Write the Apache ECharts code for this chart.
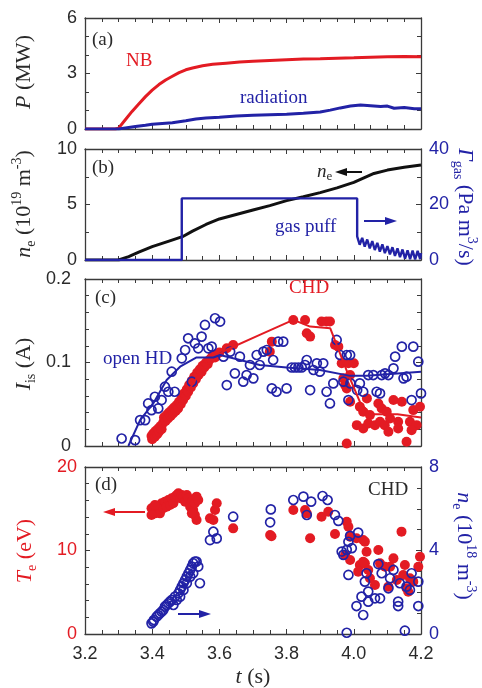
<!DOCTYPE html>
<html><head><meta charset="utf-8">
<script src="https://cdn.jsdelivr.net/npm/echarts@6/dist/echarts.min.js"></script>
<style>html,body{margin:0;padding:0;background:#fff}#c{width:482px;height:688px}</style>
</head><body><div id="c"></div>
<script>
// ---------------- data ----------------
const timeTicks = [3.2, 3.4, 3.6, 3.8, 4.0, 4.2];

// (a) powers, MW
const nbPower = [[3.2,0],[3.29,0],[3.30,0.05],[3.32,0.5],[3.34,0.95],[3.36,1.35],[3.38,1.75],[3.40,2.1],[3.42,2.4],[3.44,2.65],[3.46,2.85],[3.48,3.05],[3.50,3.2],[3.52,3.3],[3.55,3.42],[3.58,3.5],[3.62,3.56],[3.66,3.62],[3.70,3.66],[3.75,3.7],[3.80,3.74],[3.85,3.78],[3.90,3.8],[3.95,3.83],[4.00,3.85],[4.05,3.88],[4.10,3.9],[4.15,3.92],[4.20,3.9]];
const radPower = [[3.2,0],[3.3,0],[3.32,0.06],[3.35,0.13],[3.38,0.2],[3.4,0.26],[3.43,0.3],[3.46,0.34],[3.5,0.45],[3.53,0.54],[3.56,0.6],[3.6,0.64],[3.65,0.7],[3.7,0.74],[3.75,0.77],[3.8,0.8],[3.85,0.85],[3.9,0.92],[3.93,1.02],[3.96,1.14],[3.99,1.24],[4.02,1.3],[4.05,1.26],[4.08,1.22],[4.1,1.24],[4.12,1.12],[4.15,1.16],[4.18,1.1],[4.2,1.1]];

// (b) line density (1e19 m^-3) and gas puff (Pa m^3/s)
const lineDensity = [[3.2,0],[3.3,0],[3.33,0.3],[3.36,0.7],[3.4,1.2],[3.45,1.7],[3.49,2.1],[3.52,2.6],[3.56,3.2],[3.6,3.7],[3.65,4.1],[3.7,4.5],[3.75,4.9],[3.8,5.35],[3.85,5.7],[3.9,6.07],[3.95,6.5],[4.0,7.0],[4.03,7.4],[4.06,7.8],[4.1,8.1],[4.15,8.35],[4.2,8.56]];
const gasPuff = [[3.2,0],[3.488,0],[3.488,22.2],[4.01,22.2],[4.01,8.5],[4.0175,5.5],[4.025,8.0],[4.0325,4.8],[4.04,7.4],[4.0475,4.2],[4.055,6.8],[4.0625,3.6],[4.07,6.2],[4.0775,3.0],[4.085,5.6],[4.0925,2.5],[4.10,5.0],[4.1075,2.0],[4.115,4.6],[4.1225,1.5],[4.13,4.2],[4.1375,1.0],[4.145,3.8],[4.1525,0.5],[4.16,3.5],[4.1675,0.3],[4.175,3.4],[4.1825,0.2],[4.19,3.3],[4.1975,0.3],[4.2,2.5]];

// (c) ion saturation current (A)
const chdFit = [[3.40,0.01],[3.44,0.03],[3.48,0.05],[3.52,0.074],[3.55,0.092],[3.58,0.105],[3.62,0.115],[3.72,0.133],[3.82,0.151],[3.87,0.143],[3.93,0.141],[3.98,0.089],[4.02,0.051],[4.05,0.038],[4.13,0.038],[4.2,0.034]];
const hdFit = [[3.329,0],[3.364,0.031],[3.403,0.051],[3.443,0.079],[3.483,0.095],[3.532,0.106],[3.582,0.106],[3.602,0.109],[3.641,0.105],[3.72,0.097],[3.80,0.094],[3.899,0.091],[3.989,0.084],[4.039,0.084],[4.2,0.089]];
const chdIis = [[3.398,0.012],[3.40,0.008],[3.403,0.015],[3.408,0.011],[3.41,0.018],[3.415,0.014],[3.418,0.021],[3.42,0.017],[3.425,0.024],[3.428,0.02],[3.433,0.028],[3.435,0.034],[3.44,0.03],[3.443,0.037],[3.447,0.033],[3.45,0.04],[3.455,0.036],[3.458,0.043],[3.462,0.039],[3.465,0.046],[3.47,0.042],[3.473,0.049],[3.477,0.045],[3.48,0.053],[3.485,0.05],[3.488,0.058],[3.492,0.055],[3.495,0.063],[3.50,0.06],[3.503,0.068],[3.507,0.065],[3.51,0.073],[3.515,0.07],[3.518,0.078],[3.522,0.075],[3.525,0.083],[3.53,0.08],[3.534,0.088],[3.538,0.085],[3.542,0.092],[3.547,0.089],[3.55,0.096],[3.555,0.094],[3.56,0.1],[3.565,0.098],[3.57,0.103],[3.575,0.105],[3.58,0.108],[3.587,0.106],[3.592,0.11],[3.60,0.112],[3.622,0.117],[3.641,0.121],
 [3.75,0.113],[3.756,0.125],[3.82,0.151],[3.855,0.151],[3.86,0.135],[3.87,0.131],[3.904,0.149],[3.919,0.149],[3.929,0.149],[3.944,0.121],[3.954,0.119],[3.964,0.099],[3.984,0.099],[4.0,0.099],[3.969,0.081],[3.974,0.073],[3.979,0.069],[3.989,0.085],[3.989,0.053],[4.039,0.057],[4.018,0.047],[4.028,0.041],[4.048,0.037],[4.073,0.051],[4.083,0.045],[4.098,0.041],[4.118,0.055],[4.143,0.053],[4.177,0.043],[4.197,0.047],[4.009,0.025],[4.028,0.021],[4.043,0.027],[4.063,0.025],[4.078,0.029],[4.092,0.025],[4.108,0.033],[4.132,0.029],[4.103,0.017],[4.132,0.021],[4.167,0.029],[4.187,0.025],[4.172,0.019],[3.979,0.003],[4.157,0.005]];
const hdIis = [[3.309,0.009],[3.349,0.007],[3.364,0.031],[3.379,0.031],[3.388,0.051],[3.398,0.043],[3.408,0.059],[3.418,0.045],[3.428,0.055],[3.438,0.071],[3.448,0.065],[3.458,0.089],[3.467,0.065],[3.488,0.105],[3.498,0.115],[3.507,0.129],[3.518,0.077],[3.527,0.123],[3.537,0.117],[3.547,0.131],[3.557,0.145],[3.567,0.117],[3.577,0.119],[3.587,0.153],[3.602,0.149],[3.612,0.107],[3.622,0.073],[3.632,0.113],[3.646,0.087],[3.661,0.107],[3.671,0.077],[3.681,0.085],[3.691,0.097],[3.701,0.081],[3.711,0.109],
 [3.72,0.097],[3.731,0.113],[3.741,0.115],[3.756,0.069],[3.77,0.065],[3.76,0.103],[3.775,0.125],[3.79,0.125],[3.80,0.069],[3.815,0.094],[3.825,0.094],[3.835,0.094],[3.845,0.094],[3.855,0.097],[3.86,0.103],[3.87,0.067],[3.88,0.091],[3.89,0.099],[3.899,0.089],[3.909,0.099],[3.919,0.065],[3.929,0.051],[3.939,0.075],[3.949,0.127],[3.959,0.109],[3.979,0.109],[3.989,0.109],[3.969,0.077],[3.984,0.055],[3.99,0.075],[4.018,0.075],[4.01,0.067],[4.028,0.065],[4.043,0.085],[4.058,0.085],[4.068,0.065],[4.078,0.063],[4.083,0.085],[4.093,0.087],[4.103,0.085],[4.118,0.093],[4.123,0.107],[4.143,0.119],[4.148,0.081],[4.157,0.083],[4.172,0.055],[4.177,0.119],[4.192,0.101],[4.2,0.063]];

// (d) CHD electron temperature (eV) and density (1e18 m^-3)
const chdTe = [[3.398,15.05],[3.403,14.65],[3.408,14.45],[3.413,14.85],[3.418,15.25],[3.423,14.45],[3.428,15.65],[3.433,15.05],[3.438,15.85],[3.443,15.25],[3.448,16.05],[3.453,15.45],[3.458,16.25],[3.463,15.65],[3.468,16.45],[3.473,16.65],[3.478,16.85],[3.483,16.25],[3.488,16.65],[3.493,16.45],[3.498,15.85],[3.503,16.65],[3.508,16.25],[3.513,15.25],[3.518,15.85],[3.522,14.85],[3.527,15.65],[3.532,16.45],[3.532,13.65],[3.537,16.05],[3.527,14.25],[3.518,14.45],[3.408,15.45],[3.398,14.25],
 [3.572,13.85],[3.582,13.65],[3.587,14.85],[3.592,15.65],[3.641,12.65],
 [3.751,11.86],[3.755,11.7],[3.82,14.85],[3.855,14.85],[3.86,14.45],[3.87,11.46],[3.904,14.05],[3.924,14.65],[3.944,11.98],[3.979,13.45],[3.984,12.85],[3.989,11.66],[4.008,11.46],[4.028,11.26],[4.033,11.06],[4.038,9.86],[3.974,9.46],[3.989,8.86],[4.018,8.26],[4.028,8.66],[4.033,8.46],[4.013,7.47],[4.043,7.66],[4.048,6.67],[4.063,5.87],[4.073,10.06],[4.078,8.46],[4.093,8.06],[4.108,8.06],[4.118,9.06],[4.142,12.26],[4.128,6.47],[4.103,5.67],[4.147,7.07],[4.152,8.26],[4.157,5.47],[4.167,6.67],[4.192,8.06],[4.197,9.26],[4.162,5.07],[4.177,6.27]];
const chdNe = [[3.398,0.51],[3.403,0.59],[3.405,0.67],[3.413,0.83],[3.418,0.91],[3.423,0.99],[3.428,1.07],[3.433,1.15],[3.438,1.31],[3.443,1.39],[3.448,1.47],[3.453,1.55],[3.458,1.63],[3.463,1.39],[3.473,1.63],[3.478,1.95],[3.483,2.11],[3.488,2.27],[3.493,2.43],[3.498,2.59],[3.503,2.75],[3.508,2.91],[3.513,3.07],[3.518,3.23],[3.522,3.39],[3.527,3.47],[3.532,3.47],[3.537,3.23],[3.542,2.43],[3.468,1.79],[3.483,1.79],[3.493,2.11],[3.503,2.43],[3.513,2.75],[3.522,2.91],
 [3.572,4.5],[3.582,4.9],[3.592,4.58],[3.641,5.62],
 [3.753,5.97],[3.751,5.35],[3.82,6.42],[3.85,6.58],[3.86,5.70],[3.873,6.34],[3.907,6.61],[3.922,6.42],[3.944,5.70],[3.954,5.42],[3.989,4.70],[3.984,4.42],[3.979,4.03],[3.969,3.79],[3.964,3.95],[4.013,4.86],[3.994,4.11],[3.984,2.83],[4.038,2.91],[4.033,2.51],[4.043,2.03],[4.023,1.79],[4.008,1.34],[4.043,1.55],[4.028,0.91],[4.063,1.71],[4.078,1.71],[4.073,3.35],[4.083,2.91],[4.103,2.19],[4.108,2.67],[4.118,3.07],[4.132,1.55],[4.132,1.34],[4.137,2.43],[4.157,2.27],[4.172,2.91],[4.167,2.11],[4.192,2.51],[4.192,1.34],[3.979,0.06],[4.152,0.16]];

// ---------------- chart ----------------
const RED = '#e31b23', BLUE = '#2222a6', AX = '#3a3a3a', TXT = '#2a2a2a';
const SERIF = '"Liberation Serif", "DejaVu Serif", serif';
const SANS = '"Liberation Sans", Arial, sans-serif';

const chart = echarts.init(document.getElementById('c'), null, {renderer: 'canvas'});
const L = 85, W = 336;
const grids = [
  {left: L, top: 18, width: W, height: 111},
  {left: L, top: 149, width: W, height: 111},
  {left: L, top: 279, width: W, height: 167},
  {left: L, top: 467, width: W, height: 167}
].map(g => Object.assign(g, {outerBoundsMode: 'none', containLabel: false}));

function xAx(g, pos, showLab) {
  return {
    type: 'value', gridIndex: g, position: pos, min: timeTicks[0], max: timeTicks[timeTicks.length - 1], interval: 0.2,
    axisLine: {show: true, onZero: false, lineStyle: {color: AX, width: 1.3}},
    axisTick: {show: true, inside: true, length: 5, lineStyle: {color: AX, width: 1}},
    minorTick: {show: true, splitNumber: 4, length: 4, lineStyle: {color: AX, width: 1}},
    splitLine: {show: false},
    axisLabel: {show: showLab, margin: 11, color: TXT, fontFamily: SANS, fontSize: 18, formatter: v => v.toFixed(1), showMinLabel: true, showMaxLabel: true}
  };
}
function yAx(g, pos, min, max, interval, minorSplit, showLab, color, fmt, margin) {
  return {
    type: 'value', gridIndex: g, position: pos, min, max, interval,
    axisLine: {show: true, onZero: false, lineStyle: {color: AX, width: 1.3}},
    axisTick: {show: true, inside: true, length: 5, lineStyle: {color: AX, width: 1}},
    minorTick: {show: true, splitNumber: minorSplit, length: 4, lineStyle: {color: AX, width: 1}},
    splitLine: {show: false},
    axisLabel: {show: showLab, margin: margin || 8, color: color || TXT, fontFamily: SANS, fontSize: 18, showMinLabel: true, showMaxLabel: true, formatter: fmt}
  };
}

const xAxis = [];
for (let g = 0; g < 4; g++) { xAxis.push(xAx(g, 'bottom', g === 3)); xAxis.push(xAx(g, 'top', false)); }

const yAxis = [
  yAx(0, 'left', 0, 6, 3, 3, true),
  yAx(0, 'right', 0, 6, 3, 3, false),
  yAx(1, 'left', 0, 10, 5, 2, true),
  yAx(1, 'right', 0, 40, 20, 2, true, BLUE),
  yAx(2, 'left', 0, 0.2, 0.1, 5, true, TXT, v => String(Math.round(v * 10) / 10), 14),
  yAx(2, 'right', 0, 0.2, 0.1, 5, false),
  yAx(3, 'left', 0, 20, 10, 5, true, RED),
  yAx(3, 'right', 0, 8, 4, 4, true, BLUE)
];

const line = (name, data, xi, yi, color, w) => ({name, type: 'line', data, xAxisIndex: xi, yAxisIndex: yi, showSymbol: false, symbol: 'none', lineStyle: {color, width: w}, z: 3, animation: false});
const filled = (name, data, xi, yi) => ({name, type: 'scatter', data, xAxisIndex: xi, yAxisIndex: yi, symbol: 'circle', symbolSize: 10, itemStyle: {color: RED, opacity: 1}, z: 2, animation: false});
const open = (name, data, xi, yi) => ({name, type: 'scatter', data, xAxisIndex: xi, yAxisIndex: yi, symbol: 'circle', symbolSize: 9, itemStyle: {color: 'rgba(255,255,255,0)', borderColor: BLUE, borderWidth: 1.7, opacity: 1}, z: 2, animation: false});

const series = [
  line('NB', nbPower, 0, 0, RED, 3),
  line('radiation', radPower, 0, 0, BLUE, 3),
  line('n_e', lineDensity, 2, 2, '#111', 3),
  line('gas puff', gasPuff, 2, 3, BLUE, 2.4),
  filled('CHD I_is', chdIis, 4, 4),
  open('open HD I_is', hdIis, 4, 4),
  line('CHD fit', chdFit, 4, 4, RED, 2),
  line('open HD fit', hdFit, 4, 4, BLUE, 2),
  filled('CHD T_e', chdTe, 6, 6),
  open('CHD n_e', chdNe, 6, 7)
];

// ---------- annotations ----------
const richBase = (color) => ({
  n: {fontFamily: SERIF, fontSize: 22, fill: color, color, lineHeight: 28, verticalAlign: 'middle'},
  i: {fontFamily: SERIF, fontSize: 22, fontStyle: 'italic', fill: color, color, lineHeight: 28, verticalAlign: 'middle'},
  sup: {fontFamily: SERIF, fontSize: 14, fill: color, color, lineHeight: 14, verticalAlign: 'top'},
  sub: {fontFamily: SERIF, fontSize: 14, fill: color, color, lineHeight: 14, verticalAlign: 'bottom'}
});
function title(x, y, text, color, rot) {
  return {type: 'text', x, y, rotation: rot, z: 10,
    style: {text, rich: richBase(color), align: 'center', verticalAlign: 'middle', fill: color}};
}
function label(x, y, text, color, size, align) {
  return {type: 'text', x, y, z: 10,
    style: {text, fill: color, fontFamily: SERIF, fontSize: size || 19, align: align || 'left', verticalAlign: 'middle'}};
}
function arrow(x1, x2, y, color) {
  const d = x2 > x1 ? 1 : -1;
  return [
    {type: 'line', z: 10, shape: {x1, y1: y, x2: x2 - d * 6, y2: y}, style: {stroke: color, lineWidth: 2}},
    {type: 'polygon', z: 10, shape: {points: [[x2, y], [x2 - d * 12, y - 4], [x2 - d * 12, y + 4]]}, style: {fill: color}}
  ];
}
const R90 = Math.PI / 2;
const graphic = [
  title(24, 72, '{i|P}{n| (MW)}', TXT, R90),
  title(24, 204, '{i|n}{sub|e}{n| (10}{sup|19}{n| m}{sup|-3}{n|)}', TXT, R90),
  title(465, 207, '{i|Γ}{sub|gas}{n| (Pa m}{sup|3}{n|/s)}', BLUE, -R90),
  title(24, 364, '{i|I}{sub|is}{n| (A)}', TXT, R90),
  title(25, 551, '{i|T}{sub|e}{n| (eV)}', RED, R90),
  title(464, 546, '{i|n}{sub|e}{n| (10}{sup|18}{n| m}{sup|-3}{n|)}', BLUE, -R90),
  {type: 'text', x: 253, y: 677, z: 10, style: {text: '{i|t}{n| (s)}', rich: richBase(TXT), align: 'center', verticalAlign: 'middle'}},
  label(92, 40, '(a)', TXT),
  label(126, 61, 'NB', RED),
  label(240, 98, 'radiation', BLUE),
  label(92, 168, '(b)', TXT),
  {type: 'text', x: 317, y: 172, z: 10, style: {text: '{i|n}{sub|e}', rich: {
    i: {fontFamily: SERIF, fontSize: 19, fontStyle: 'italic', fill: TXT, lineHeight: 22, verticalAlign: 'middle'},
    sub: {fontFamily: SERIF, fontSize: 13, fill: TXT, lineHeight: 12, verticalAlign: 'bottom'}}, align: 'left', verticalAlign: 'middle'}},
  ...arrow(362, 335, 172, '#111'),
  label(275, 227, 'gas puff', BLUE),
  ...arrow(364, 397, 221, BLUE),
  label(95, 298, '(c)', TXT),
  label(289, 288, 'CHD', RED),
  label(103, 359, 'open HD', BLUE),
  label(95, 485, '(d)', TXT),
  label(368, 490, 'CHD', TXT),
  ...arrow(145, 103, 512, RED),
  ...arrow(178, 211, 614, BLUE)
];

chart.setOption({
  animation: false,
  backgroundColor: '#fff',
  grid: grids,
  xAxis, yAxis, series, graphic
});
</script>
</body></html>
